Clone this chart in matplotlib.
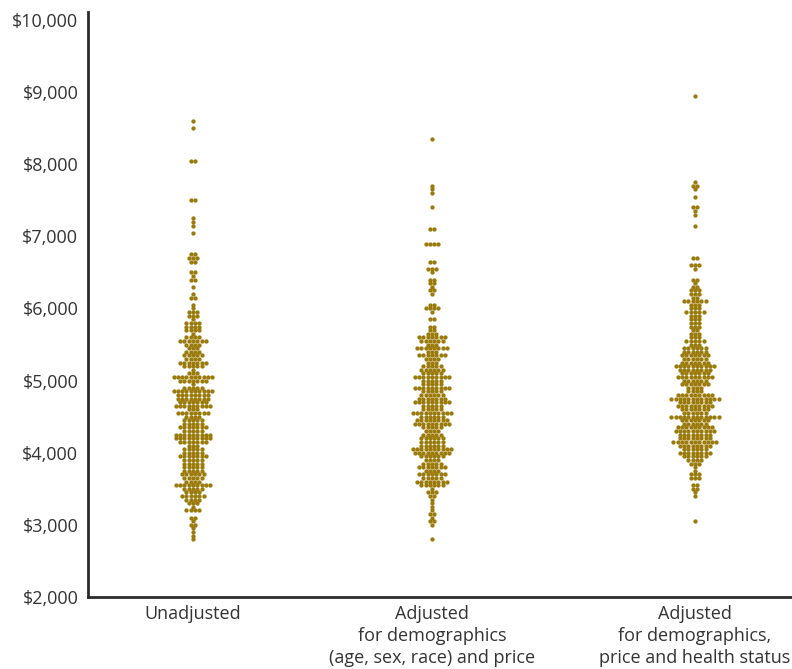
import numpy as np
import matplotlib.pyplot as plt
from matplotlib.ticker import FuncFormatter

labels = ['Unadjusted',
          'Adjusted\nfor demographics\n(age, sex, race) and price',
          'Adjusted\nfor demographics,\nprice and health status']

# each row of the swarm: spending level ($, $50 bins) and number of dots in it
unadj_values = [8600, 8500, 8050, 7500, 7250, 7200, 7150, 7050, 6750, 6700,
                6650, 6500, 6450, 6400, 6300, 6200, 6150,
                6050, 6000, 5950, 5900, 5850, 5800, 5750, 5700, 5650, 5600,
                5550, 5500, 5450, 5400, 5350, 5300, 5250, 5200, 5150, 5100,
                5050, 5000, 4950, 4900, 4850, 4800, 4750, 4700, 4650, 4600,
                4550, 4500, 4450, 4400, 4350, 4300, 4250, 4200, 4150, 4100,
                4050, 4000, 3950, 3900, 3850, 3800, 3750, 3700, 3650, 3600,
                3550, 3500, 3450, 3400, 3350, 3300, 3250, 3200, 3150, 3100,
                3050, 3000, 2950, 2900, 2850, 2800]
unadj_counts = [1, 1, 2, 2, 1, 1, 1, 1, 2, 3,
                2, 2, 1, 2, 1, 1, 2,
                1, 1, 3, 3, 1, 4, 4, 4, 1, 4,
                7, 4, 3, 4, 5, 4, 7, 5, 1, 3,
                10, 7, 1, 5, 10, 8, 8, 7, 9, 3,
                8, 4, 5, 5, 7, 5, 9, 9, 7, 3,
                5, 5, 7, 5, 5, 5, 5, 6, 5, 4,
                9, 5, 4, 6, 4, 3, 1, 4, 0, 2,
                1, 2, 1, 1, 1, 1]

demo_values = [8350, 7700, 7650, 7600, 7400, 7100, 6900, 6650, 6550, 6500,
               6400, 6350, 6300, 6250, 6200, 6050, 6000, 5950, 5850,
               5750, 5700, 5650, 5600, 5550, 5500, 5450, 5400, 5350, 5300,
               5250, 5200, 5150, 5100, 5050, 5000, 4950, 4900, 4850, 4800,
               4750, 4700, 4650, 4600, 4550, 4500, 4450, 4400, 4350, 4300,
               4250, 4200, 4150, 4100, 4050, 4000, 3950, 3900, 3850, 3800,
               3750, 3700, 3650, 3600, 3550, 3500, 3450, 3400, 3350, 3300,
               3250, 3200, 3150, 3100, 3050, 3000, 2800]
demo_counts = [1, 1, 1, 1, 1, 2, 4, 2, 3, 1,
               2, 2, 1, 2, 1, 2, 4, 1, 2,
               2, 2, 3, 7, 6, 3, 8, 3, 7, 4,
               3, 5, 6, 5, 9, 5, 5, 9, 5, 6,
               7, 9, 5, 5, 10, 6, 8, 9, 5, 4,
               5, 6, 6, 6, 10, 9, 6, 4, 5, 7,
               4, 7, 5, 8, 6, 1, 3, 2, 1, 1,
               1, 1, 2, 1, 2, 1, 1]

health_values = [8950, 7750, 7700, 7650, 7550, 7400, 7350, 7300, 7150, 6700,
                 6600, 6550, 6400, 6350, 6300, 6250, 6200, 6150,
                 6100, 6050, 6000, 5950, 5900, 5850, 5800, 5750, 5700, 5650,
                 5600, 5550, 5500, 5450, 5400, 5350, 5300, 5250, 5200, 5150,
                 5100, 5050, 5000, 4950, 4900, 4850, 4800, 4750, 4700, 4650,
                 4600, 4550, 4500, 4450, 4400, 4350, 4300, 4250, 4200, 4150,
                 4100, 4050, 4000, 3950, 3900, 3850, 3800, 3750, 3700, 3650,
                 3550, 3500, 3450, 3400, 3050]
health_counts = [1, 1, 2, 1, 1, 2, 1, 1, 1, 2,
                 3, 1, 2, 1, 2, 3, 3, 2,
                 6, 3, 3, 5, 3, 3, 3, 3, 2, 3,
                 3, 5, 3, 6, 6, 7, 6, 7, 10, 8,
                 7, 9, 6, 7, 4, 4, 9, 12, 8, 9,
                 7, 6, 12, 7, 6, 9, 10, 8, 8, 11,
                 8, 6, 8, 6, 4, 3, 1, 1, 3, 3,
                 2, 2, 1, 1, 1]

groups = [(unadj_values, unadj_counts),
          (demo_values, demo_counts),
          (health_values, health_counts)]

positions = [1.0, 2.0, 3.1]
xlim = (0.561, 3.506)
dot_color = '#9b7a0c'

fig = plt.figure(figsize=(7.92, 6.69), dpi=100)
ax = fig.add_axes([88 / 792, 1 - 597 / 669, 1 - 88 / 792, 585 / 669])
ax.set_xlim(*xlim)
ax.set_ylim(2000, 10110)

# horizontal step between neighbouring dots, ~4.3 px
px_per_unit = 704 / (xlim[1] - xlim[0])
dx = 4.3 / px_per_unit

for pos, (values, counts) in zip(positions, groups):
    xs, ys = [], []
    for v, n in zip(values, counts):
        offs = (np.arange(n) - (n - 1) / 2) * dx
        xs.extend(pos + offs)
        ys.extend([v] * n)
    ax.plot(xs, ys, 'o', color=dot_color, markersize=3.1, markeredgewidth=0)

for side in ['top', 'right']:
    ax.spines[side].set_visible(False)
for side in ['left', 'bottom']:
    ax.spines[side].set_linewidth(2)
    ax.spines[side].set_color('#2b2b2b')

ax.set_yticks(np.arange(2000, 10001, 1000))
ax.yaxis.set_major_formatter(FuncFormatter(lambda v, p: '${:,.0f}'.format(v)))
ax.set_xticks(positions)
ax.set_xticklabels(labels, linespacing=1.28)
ax.tick_params(axis='both', length=0, labelsize=13, labelcolor='#333333')
ax.tick_params(axis='y', pad=7)
ax.tick_params(axis='x', pad=6)
for t in ax.get_xticklabels() + ax.get_yticklabels():
    t.set_fontfamily('Open Sans')

fig.savefig('out.png', dpi=100)
